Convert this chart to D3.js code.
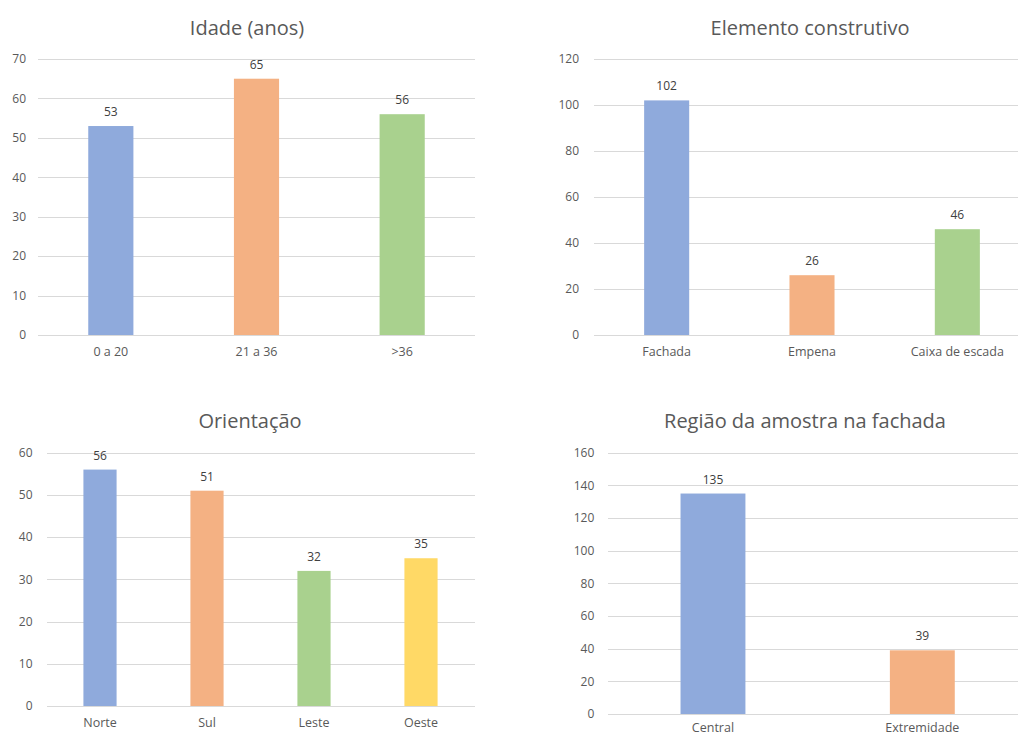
<!DOCTYPE html>
<html>
<head>
<meta charset="utf-8">
<script src="https://cdn.jsdelivr.net/npm/d3@7"></script>
<style>
  html, body { margin: 0; padding: 0; background: #fff; overflow: hidden; }
  svg { display: block; font-family: "Open Sans", Lato, sans-serif; }
</style>
</head>
<body>
<svg id="chart" width="1018" height="735"></svg>
<script>
// Idade (anos)
const idadeCategories = ["0 a 20", "21 a 36", ">36"];
const idadeValues = [53, 65, 56];
const idadeTicks = [0, 10, 20, 30, 40, 50, 60, 70];

// Elemento construtivo
const elementoCategories = ["Fachada", "Empena", "Caixa de escada"];
const elementoValues = [102, 26, 46];
const elementoTicks = [0, 20, 40, 60, 80, 100, 120];

// Orientação
const orientacaoCategories = ["Norte", "Sul", "Leste", "Oeste"];
const orientacaoValues = [56, 51, 32, 35];
const orientacaoTicks = [0, 10, 20, 30, 40, 50, 60];

// Região da amostra na fachada
const regiaoCategories = ["Central", "Extremidade"];
const regiaoValues = [135, 39];
const regiaoTicks = [0, 20, 40, 60, 80, 100, 120, 140, 160];

const barColors = ["#8faadc", "#f4b183", "#a9d18e", "#ffd966"];
const textColor = "#595959";
const gridColor = "#d9d9d9";
const fontFamily = "'Open Sans', Lato, sans-serif";

const svg = d3.select("#chart");

function drawPanel(p) {
  const g = svg.append("g");

  const x = d3.scaleBand()
    .domain(p.categories)
    .range([p.x0, p.x1])
    .paddingInner(0.69)
    .paddingOuter(0.345);

  const y = d3.scaleLinear()
    .domain([0, d3.max(p.ticks)])
    .range([p.y0, p.y1]);

  // horizontal gridlines + tick labels
  const yAxis = d3.axisLeft(y)
    .tickValues(p.ticks)
    .tickSize(-(Math.min(p.x1, 1018) - p.x0))
    .tickPadding(p.tickPad);

  const ax = g.append("g")
    .attr("transform", `translate(${p.x0},0)`)
    .call(yAxis);
  ax.select(".domain").remove();
  ax.selectAll(".tick line").attr("stroke", gridColor).attr("stroke-width", 1)
    .attr("shape-rendering", "crispEdges");
  ax.selectAll(".tick text")
    .attr("fill", textColor)
    .style("font-size", "12px")
    .style("font-family", fontFamily);

  // bars
  g.selectAll("rect.bar")
    .data(p.values)
    .join("rect")
    .attr("class", "bar")
    .attr("x", (d, i) => x(p.categories[i]))
    .attr("width", x.bandwidth())
    .attr("y", d => y(d))
    .attr("height", d => y(0) - y(d))
    .attr("fill", (d, i) => barColors[i]);

  // value labels
  g.selectAll("text.val")
    .data(p.values)
    .join("text")
    .attr("class", "val")
    .attr("x", (d, i) => x(p.categories[i]) + x.bandwidth() / 2)
    .attr("y", d => y(d) - 10)
    .attr("text-anchor", "middle")
    .attr("fill", "#404040")
    .style("font-size", "12px")
    .text(d => d);

  // category labels
  g.selectAll("text.cat")
    .data(p.categories)
    .join("text")
    .attr("class", "cat")
    .attr("x", d => x(d) + x.bandwidth() / 2)
    .attr("y", Math.min(y(0) + 21, 732))
    .attr("text-anchor", "middle")
    .attr("fill", textColor)
    .style("font-size", "12.5px")
    .text(d => d);

  // title
  g.append("text")
    .attr("x", p.titleX)
    .attr("y", p.titleY)
    .attr("text-anchor", "middle")
    .attr("fill", textColor)
    .style("font-size", "20px")
    .text(p.title);
}

drawPanel({
  title: "Idade (anos)", titleX: 247, titleY: 35,
  categories: idadeCategories, values: idadeValues, ticks: idadeTicks,
  x0: 38, x1: 475, y0: 335, y1: 59, tickPad: 12
});

drawPanel({
  title: "Elemento construtivo", titleX: 810, titleY: 35,
  categories: elementoCategories, values: elementoValues, ticks: elementoTicks,
  x0: 594, x1: 1030, y0: 335, y1: 59, tickPad: 15
});

drawPanel({
  title: "Orientação", titleX: 250, titleY: 428,
  categories: orientacaoCategories, values: orientacaoValues, ticks: orientacaoTicks,
  x0: 46.5, x1: 474.5, y0: 706, y1: 452.7, tickPad: 14
});

drawPanel({
  title: "Região da amostra na fachada", titleX: 805, titleY: 428,
  categories: regiaoCategories, values: regiaoValues, ticks: regiaoTicks,
  x0: 608.3, x1: 1027, y0: 714, y1: 452.7, tickPad: 14
});
</script>
</body>
</html>
